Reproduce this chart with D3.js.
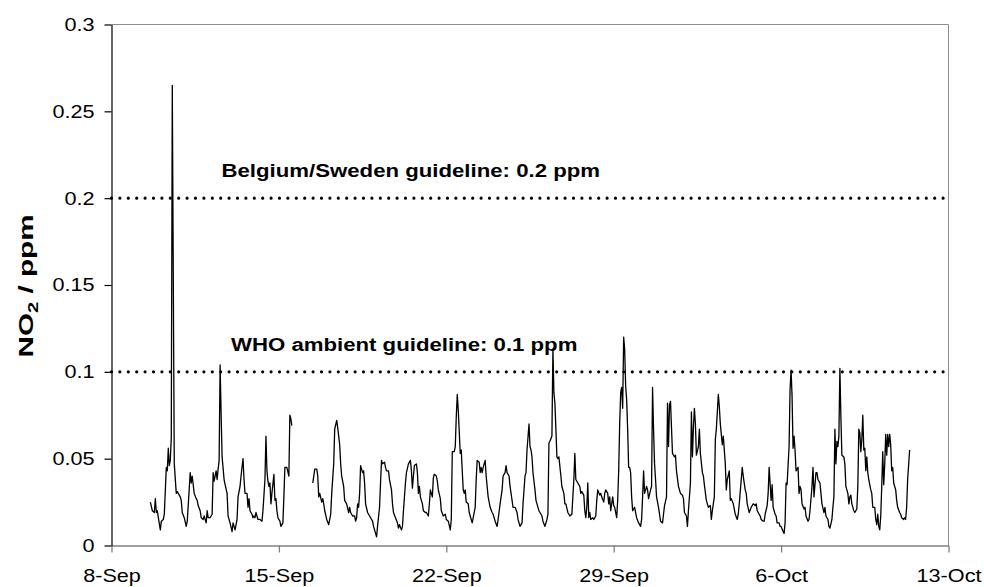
<!DOCTYPE html>
<html>
<head>
<meta charset="utf-8">
<script src="https://cdn.jsdelivr.net/npm/d3@7"></script>
<style>
  body { margin: 0; background: #fff; }
  svg { display: block; font-family: "Liberation Sans", Arial, sans-serif; }
</style>
</head>
<body>
<div id="chart"></div>
<script>
// hours since 8-Sep 00:00, NO2 in ppm (null = no data)
const hours = [
  39, 41, 43, 44, 45, 46, 47, 49, 50, 52, 53, 55, 56, 57, 58, 59, 60, 61, 63, 65,
  66, 68, 69, 70, 71, 73, 75, 76, 77, 79, 80, 81, 82, 83, 85, 86, 87, 89, 90, 92,
  93, 95, 96, 97, 99, 101, 102, 103, 105, 106, 107, 108, 109, 110, 111, 113, 114, 116, 117, 119,
  121, 122, 124, 126, 127, 129, 130, 132, 133, 134, 136, 137, 138, 139, 141, 142, 143, 144, 145, 146,
  147, 149, 151, 152, 154, 155, 156, 157, 158, 159, 160, 161, 163, 164, 165, 166, 167, 169, 170, 172,
  173, 174, 176, 178, 179, 180, 181, 191,
  202, 204, 206, 207, 208, 209, 211, 212, 213, 214, 216, 218, 220, 221, 223, 224, 226, 227, 229, 230,
  231, 233, 234, 236, 238, 239, 240, 242, 244, 245, 246, 247, 248, 249, 250, 252, 253, 254, 255, 257,
  258, 260, 262, 263, 265, 266, 267, 269, 270, 271, 272, 274, 275, 276, 278, 279, 281, 282, 283, 285,
  287, 288, 289, 291, 292, 293, 295, 296, 298, 300, 301, 302, 303, 304, 306, 307, 308, 309, 310, 312,
  313, 315, 316, 318, 319, 320, 322, 323, 324, 326, 327, 328, 330, 331, 333, 335, 336, 338, 340, 341,
  342, 344, 345, 346, 347, 348, 350, 351, 352, 353, 354, 355, 356, 358, 359, 361, 362, 363, 365, 366,
  367, 369, 370, 371, 372, 373, 375, 376, 377, 378, 380, 382, 383, 385, 387, 388, 390, 392, 393, 395,
  396, 397, 399, 400, 402, 403, 405, 407, 408, 410, 412, 413, 415, 416, 417, 419, 420, 421, 422, 423,
  425, 426, 427, 429, 430, 432, 433, 435, 437, 438, 439, 440, 442, 443, 444, 445, 446, 447, 448, 449,
  451, 452, 454, 455, 456, 458, 459, 460, 462, 463, 464, 465, 466, 467, 468, 470, 471, 472, 474, 475,
  476, 477, 478, 479, 480, 481, 483, 484, 486, 487, 488, 490, 491, 492, 494, 495, 496, 498, 499, 500,
  501, 503, 504, 505, 507, 508, 509, 510, 511, 512, 513, 514, 515, 516, 517, 518, 519, 520, 521, 522,
  523, 525, 526, 527, 529, 531, 532, 533, 534, 535, 537, 538, 539, 541, 542, 543, 544, 545, 546, 547,
  549, 550, 551, 553, 554, 555, 557, 558, 559, 560, 561, 562, 563, 565, 566, 567, 569, 570, 571, 573,
  574, 575, 577, 578, 579, 581, 582, 583, 584, 585, 586, 587, 589, 590, 591, 593, 594, 595, 597, 598,
  599, 601, 602, 603, 605, 606, 607, 609, 610, 611, 613, 614, 616, 617, 618, 620, 621, 622, 624, 625,
  626, 628, 629, 630, 632, 633, 634, 636, 637, 638, 640, 642, 643, 644, 646, 647, 648, 650, 651, 652,
  654, 655, 656, 658, 659, 660, 662, 663, 664, 666, 667, 668, 670, 671, 672, 674, 675, 676, 677, 678,
  680, 681, 682, 683, 684, 685, 686, 687, 689, 690, 691, 692, 693, 695, 696, 697, 699, 700, 701, 703,
  704, 705, 707, 708, 709, 711, 712, 713, 715, 716, 717, 719, 720, 721, 723, 724, 725, 726, 727, 728,
  729, 730, 731, 732, 733, 735, 736, 737, 738, 739, 740, 741, 742, 743, 745, 746, 748, 749, 750, 751,
  752, 753, 754, 755, 756, 757, 758, 759, 760, 762, 763, 764, 766, 767, 768, 769, 770, 771, 772, 773,
  774, 775, 776, 777, 778, 779, 780, 781, 782, 783, 784, 785, 787, 788, 789, 791, 792, 793, 795, 796,
  797, 798, 799, 801
];
const no2 = [
  .025, .020, .019, .027, .019, .020, .016, .009, .014, .015, .018, .045, .043, .056, .046, .049, .062, .265, .047, .030,
  .031, .029, .028, .026, .019, .016, .011, .014, .023, .042, .036, .040, .035, .030, .027, .026, .023, .020, .016, .015,
  .017, .013, .020, .016, .016, .018, .042, .037, .043, .038, .044, .049, .104, .076, .051, .038, .035, .030, .017, .013,
  .008, .013, .009, .015, .028, .034, .040, .050, .038, .030, .030, .022, .027, .020, .018, .016, .017, .016, .019, .017,
  .015, .015, .014, .020, .038, .063, .043, .037, .034, .036, .024, .030, .041, .026, .027, .020, .016, .014, .011, .013,
  .028, .045, .045, .040, .075, .073, .069, null,
  .036, .044, .044, .040, .028, .030, .025, .027, .024, .020, .015, .012, .018, .030, .047, .067, .072, .068, .058, .047,
  .040, .034, .026, .024, .019, .022, .019, .017, .017, .014, .016, .024, .022, .030, .046, .042, .043, .036, .024, .019,
  .018, .016, .014, .011, .007, .005, .011, .022, .036, .049, .047, .048, .045, .043, .043, .038, .032, .024, .019, .016,
  .013, .010, .012, .009, .011, .020, .036, .042, .047, .049, .043, .033, .040, .046, .047, .042, .030, .034, .028, .024,
  .020, .019, .019, .017, .024, .032, .028, .039, .041, .040, .037, .032, .027, .020, .017, .018, .015, .014, .009, .015,
  .054, .054, .057, .074, .087, .078, .053, .055, .043, .032, .030, .032, .025, .024, .019, .015, .013, .016, .022, .038,
  .049, .048, .042, .045, .042, .045, .049, .040, .034, .028, .022, .019, .018, .014, .011, .015, .024, .032, .040, .042,
  .046, .042, .040, .034, .026, .022, .022, .019, .015, .011, .013, .024, .040, .042, .055, .070, .057, .055, .051, .042,
  .032, .026, .024, .020, .019, .017, .014, .011, .015, .018, .059, .060, .063, .113, .088, .082, .067, .051, .050, .051,
  .040, .034, .030, .024, .024, .019, .018, .017, .018, .028, .038, .053, .038, .037, .036, .034, .030, .031, .029, .020,
  .016, .022, .036, .016, .019, .015, .016, .015, .017, .026, .032, .029, .030, .028, .025, .030, .032, .030, .024, .028,
  .020, .028, .023, .022, .016, .026, .043, .070, .088, .091, .079, .120, .113, .092, .084, .067, .045, .045, .042, .028,
  .020, .022, .019, .016, .013, .011, .015, .028, .043, .030, .034, .032, .027, .032, .034, .091, .067, .047, .038, .028,
  .022, .018, .014, .013, .018, .023, .028, .082, .057, .081, .083, .068, .053, .051, .052, .043, .034, .032, .030, .029,
  .027, .019, .017, .011, .020, .036, .077, .051, .068, .079, .070, .052, .057, .067, .053, .042, .040, .035, .026, .024,
  .022, .023, .015, .020, .028, .061, .067, .087, .080, .070, .058, .063, .047, .032, .038, .043, .026, .027, .024, .021,
  .018, .015, .018, .024, .038, .045, .040, .032, .030, .024, .019, .022, .023, .024, .023, .024, .020, .018, .017, .015,
  .014, .014, .018, .023, .030, .045, .026, .035, .022, .018, .017, .013, .013, .011, .011, .008, .007, .013, .036, .035,
  .057, .090, .101, .086, .056, .063, .055, .043, .045, .030, .034, .032, .024, .021, .022, .017, .014, .015, .020, .034,
  .045, .028, .042, .042, .038, .036, .030, .024, .019, .022, .017, .015, .011, .010, .015, .022, .028, .067, .047, .060,
  .057, .063, .102, .074, .052, .051, .047, .034, .032, .030, .024, .028, .029, .024, .020, .019, .021, .034, .067, .065,
  .054, .061, .075, .055, .056, .043, .051, .042, .038, .032, .030, .022, .022, .015, .012, .018, .011, .009, .017, .034,
  .054, .035, .047, .064, .052, .064, .057, .064, .058, .043, .045, .036, .032, .026, .022, .019, .018, .016, .015, .016,
  .015, .022, .038, .055
];
const xTickDays = [0, 7, 14, 21, 28, 35];
const xTickLabels = ['8-Sep', '15-Sep', '22-Sep', '29-Sep', '6-Oct', '13-Oct'];
const yTicks = [0, 0.05, 0.1, 0.15, 0.2, 0.25, 0.3];
const guidelines = [0.2, 0.1];
const guidelineLabels = ['Belgium/Sweden guideline: 0.2 ppm', 'WHO ambient guideline: 0.1 ppm'];

const W = 984, H = 587;
const margin = {top: 24.5, right: 35.5, bottom: 41.5, left: 111.5};
const width = W - margin.left - margin.right;
const height = H - margin.top - margin.bottom;
const sx = 1.17;      // text in the source is stretched sideways
const fontSize = 18.5;

const data = hours.map((h, i) => ({h: h, v: no2[i]}));

const svg = d3.select('#chart').append('svg')
  .attr('width', W)
  .attr('height', H);

const g = svg.append('g')
  .attr('transform', `translate(${margin.left},${margin.top})`);

const x = d3.scaleLinear().domain([0, 35 * 24]).range([0, width]);
const y = d3.scaleLinear().domain([0, 0.3]).range([height, 0]);

// plot frame (top and right)
g.append('path')
  .attr('d', `M0,0H${width}V${height}`)
  .attr('fill', 'none')
  .attr('stroke', '#8c8c8c')
  .attr('stroke-width', 1);

// guidelines
g.selectAll('.guide')
  .data(guidelines)
  .enter()
  .append('line')
    .attr('x1', 0)
    .attr('x2', width)
    .attr('y1', d => y(d))
    .attr('y2', d => y(d))
    .attr('stroke', '#000')
    .attr('stroke-width', 3.2)
    .attr('stroke-linecap', 'round')
    .attr('stroke-dasharray', '0 8.4');

g.selectAll('.guide-label')
  .data(guidelines)
  .enter()
  .append('text')
    .attr('transform', (d, i) => `translate(${i === 0 ? 110 : 119.5},${y(d) - 21}) scale(1.2,1)`)
    .attr('font-size', fontSize)
    .attr('font-weight', 'bold')
    .attr('fill', '#000')
    .text((d, i) => guidelineLabels[i]);

// series
const line = d3.line()
  .defined(d => d.v != null)
  .x(d => x(d.h))
  .y(d => y(d.v));

g.append('path')
  .datum(data)
  .attr('fill', 'none')
  .attr('stroke', '#000')
  .attr('stroke-width', 1.3)
  .attr('stroke-linejoin', 'round')
  .attr('d', line);

// axes
const xAxis = g.append('g')
  .attr('transform', `translate(0,${height})`)
  .call(d3.axisBottom(x)
    .tickValues(xTickDays.map(d => d * 24))
    .tickFormat((d, i) => xTickLabels[i])
    .tickSize(7)
    .tickSizeOuter(0)
    .tickPadding(16.5));
xAxis.select('.domain').attr('stroke', '#808080').attr('stroke-width', 1.3);
xAxis.selectAll('.tick line').attr('stroke', '#808080').attr('stroke-width', 1.3);
xAxis.selectAll('text')
  .attr('font-size', fontSize)
  .attr('font-family', '"Liberation Sans", Arial, sans-serif')
  .attr('fill', '#000')
  .attr('transform', `scale(${sx},1)`);

const yAxis = g.append('g')
  .call(d3.axisLeft(y)
    .tickValues(yTicks)
    .tickFormat(d3.format('~g'))
    .tickSize(7)
    .tickSizeOuter(0));
yAxis.select('.domain').attr('stroke', '#000').attr('stroke-width', 1.2);
yAxis.selectAll('.tick line').attr('stroke', '#000').attr('stroke-width', 1.2);
yAxis.selectAll('text')
  .attr('font-size', fontSize)
  .attr('font-family', '"Liberation Sans", Arial, sans-serif')
  .attr('fill', '#000')
  .attr('x', -17 / sx)
  .attr('transform', `scale(${sx},1)`);

// y title, stretched along its length to the span seen in the source
const titleSize = 21;
const title = svg.append('text')
  .attr('text-anchor', 'middle')
  .attr('font-size', titleSize)
  .attr('font-weight', 'bold');
title.append('tspan').text('NO');
title.append('tspan').attr('font-size', titleSize * 0.68).attr('dy', 5).text('2');
title.append('tspan').attr('dy', -5).text(' / ppm');
const k = 143 / title.node().getComputedTextLength();
title.attr('transform', `translate(33,${margin.top + height / 2 + 1}) scale(1,${k}) rotate(-90)`);
</script>
</body>
</html>
